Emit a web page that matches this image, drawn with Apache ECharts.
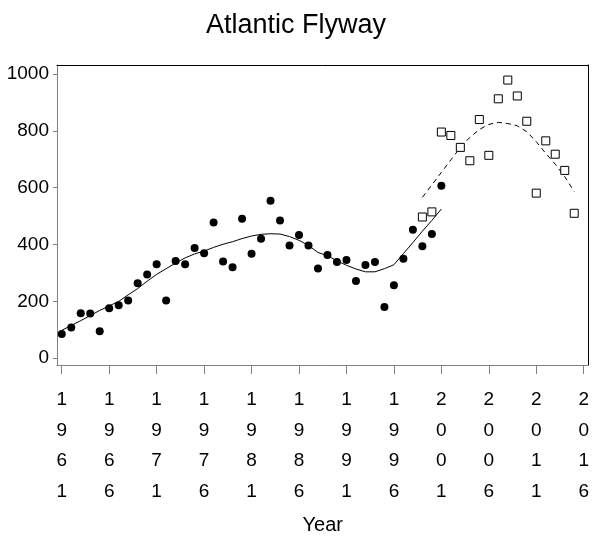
<!DOCTYPE html>
<html>
<head>
<meta charset="utf-8">
<script src="https://cdn.jsdelivr.net/npm/echarts@6/dist/echarts.min.js"></script>
<style>html,body{margin:0;padding:0;background:#fff;}#chart{width:592px;height:541px;}</style>
</head>
<body>
<div id="chart"></div>
<script>
// Observed counts (filled circles)
var obsYears = [1961,1962,1963,1964,1965,1966,1967,1968,1969,1970,1971,1972,1973,1974,1975,1976,1977,1978,1979,1980,1981,1982,1983,1984,1985,1986,1987,1988,1989,1990,1991,1992,1993,1994,1995,1996,1997,1998,1999,2000,2001];
var obsValues = [85,108,158,157,95,176,186,203,264,295,331,203,342,331,388,369,478,340,320,491,368,420,554,485,397,434,397,316,363,339,346,272,328,339,180,257,350,452,394,437,607];
// Smoothed fit for circles (solid line)
var fitValues = [98,115,132,150,168,184,200,223,245,271,295,315,335,353,367,377,390,401,410,421,430,436,438,437,428,415,397,372,361,343,327,314,304,304,315,329,368,407,447,485,525];
// Second survey (open squares)
var newYears = [1999,2000,2001,2002,2003,2004,2005,2006,2007,2008,2009,2010,2011,2012,2013,2014,2015];
var newValues = [497,515,796,784,742,695,840,714,913,979,923,834,581,765,718,661,510];
// Smoothed fit for squares (dashed line)
var newFitValues = [566,610,654,698,742,777,805,823,830,826,818,797,762,721,683,639,586];
// Tick labels
var xTicks = [1961,1966,1971,1976,1981,1986,1991,1996,2001,2006,2011,2016];
var yTicks = [0,200,400,600,800,1000];

function pairs(xs, ys){ return xs.map(function(x,i){ return [x, ys[i]]; }); }

var FONT = "'Liberation Sans Narrow','Arial Narrow','Liberation Sans',Arial,sans-serif";
var chart = echarts.init(document.getElementById('chart'), null, {renderer:'canvas'});
chart.setOption({
  animation:false,
  backgroundColor:'#fff',
  textStyle:{fontFamily:FONT},
  title:{text:'Atlantic Flyway', left:'center', top:7, textStyle:{fontFamily:FONT, fontSize:27, fontWeight:'normal', color:'#000'}},
  grid:{left:57, top:65, width:532, height:300, containLabel:false},
  xAxis:[{
    type:'value', min:1960.5, max:2016.5, position:'bottom',
    axisLine:{onZero:false, lineStyle:{color:'#808080', width:1}},
    axisTick:{show:true, length:9, customValues:xTicks, lineStyle:{color:'#808080'}},
    axisLabel:{customValues:xTicks, margin:20, fontSize:19, lineHeight:30.5, color:'#000', fontFamily:FONT,
      formatter:function(v){ return String(v).split('').join('\n'); }},
    splitLine:{show:false},
    name:'Year', nameLocation:'middle', nameGap:150,
    nameTextStyle:{fontSize:20, color:'#000', fontFamily:FONT}
  },{
    type:'value', min:1960.5, max:2016.5, position:'top',
    axisLine:{onZero:false, lineStyle:{color:'#000', width:1}},
    axisTick:{show:false}, axisLabel:{show:false}, splitLine:{show:false}
  }],
  yAxis:[{
    type:'value', min:-24, max:1032, position:'left',
    axisLine:{onZero:false, show:true, lineStyle:{color:'#808080', width:1}},
    axisTick:{show:true, length:4, customValues:yTicks, lineStyle:{color:'#808080'}},
    axisLabel:{customValues:yTicks, margin:8, fontSize:19, color:'#000', fontFamily:FONT,
      formatter:function(v){ return String(v); }},
    splitLine:{show:false}
  },{
    type:'value', min:-24, max:1032, position:'right',
    axisLine:{onZero:false, show:true, lineStyle:{color:'#000', width:1}},
    axisTick:{show:false}, axisLabel:{show:false}, splitLine:{show:false}
  }],
  series:[
    {type:'line', data:pairs(obsYears, fitValues), showSymbol:false, symbol:'none', lineStyle:{color:'#000', width:1}, z:2},
    {type:'line', data:pairs(newYears, newFitValues), showSymbol:false, symbol:'none', lineStyle:{color:'#000', width:1, type:[5,4]}, z:2},
    {type:'scatter', data:pairs(obsYears, obsValues), symbol:'circle', symbolSize:8, itemStyle:{color:'#000', opacity:1}, z:3},
    {type:'scatter', data:pairs(newYears, newValues), symbol:'rect', symbolSize:8, itemStyle:{color:'#fff', borderColor:'#000', borderWidth:1, opacity:1}, z:3}
  ]
});
</script>
</body>
</html>
